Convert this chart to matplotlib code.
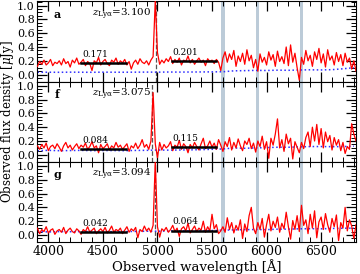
import numpy as np
import matplotlib
matplotlib.use("Agg")
import matplotlib.pyplot as plt
from matplotlib.ticker import MultipleLocator

plt.rcParams['font.family'] = ['DejaVu Serif']
plt.rcParams['mathtext.fontset'] = 'dejavuserif'

# spectra sampled every 20 A from 3900 to 6820 (rows of 10 points = 200 A)
wave = np.arange(3900, 6821, 20)

flux_a = [0.12, 0.19, 0.15, 0.21, 0.14, 0.17, 0.22, 0.13, 0.18, 0.16,
          0.20, 0.14, 0.23, 0.16, 0.19, 0.11, 0.21, 0.17, 0.24, 0.15,
          0.18, 0.22, 0.13, 0.19, 0.16, 0.06, 0.20, 0.17, 0.25, 0.14,
          0.19, 0.22, 0.16, 0.13, 0.21, 0.18, 0.24, 0.15, 0.20, 0.17,
          0.22, 0.14, 0.19, 0.08, 0.17, 0.21, 0.15, 0.23, 0.18, 0.16,
          0.20, 0.14, 0.21, 0.26, 1.08, 0.32, 0.15, 0.21, 0.17, 0.23,
          0.19, 0.26, 0.16, 0.22, 0.18, 0.24, 0.14, 0.21, 0.19, 0.27,
          0.17, 0.22, 0.15, 0.20, 0.24, 0.18, 0.21, 0.13, 0.23, 0.19,
          0.21, 0.16, 0.22, 0.18, 0.06, 0.24, 0.33, 0.18, 0.30, 0.22,
          0.35, 0.12, 0.27, 0.19, 0.31, 0.15, 0.36, 0.20, 0.28, 0.10,
          0.22, 0.05, 0.30, 0.18, 0.25, 0.14, 0.33, 0.21, 0.29, 0.12,
          0.34, 0.19, 0.26, 0.16, 0.40, 0.13, 0.43, 0.18, 0.31, 0.10,
          -0.08, 0.25, 0.15, 0.35, 0.20, 0.28, 0.12, 0.33, 0.22, 0.38,
          0.17, 0.30, 0.11, 0.36, 0.21, 0.27, 0.14, 0.32, 0.19, 0.29,
          0.13, 0.31, 0.18, 0.24, 0.08, 0.20, 0.05]

flux_f = [0.13, 0.08, 0.15, 0.10, 0.17, 0.06, 0.12, 0.14, 0.09, 0.16,
          0.11, 0.05, 0.13, 0.18, 0.10, 0.14, 0.07, 0.12, 0.16, 0.09,
          0.14, 0.11, 0.17, 0.08, 0.12, 0.19, 0.10, 0.13, 0.03, 0.15,
          0.09, 0.12, 0.16, 0.07, 0.13, 0.10, 0.18, 0.11, 0.14, 0.08,
          0.12, 0.16, 0.05, 0.13, 0.10, 0.17, 0.09, 0.14, 0.22, 0.11,
          0.15, 0.08, 0.20, 0.90, 0.16, -0.04, 0.18, 0.07, 0.15, 0.10,
          0.13, 0.19, 0.06, 0.14, 0.11, 0.21, 0.08, 0.16, 0.12, 0.03,
          0.15, 0.10, 0.18, 0.12, 0.07, 0.16, 0.24, 0.09, 0.13, 0.20,
          0.11, 0.17, 0.08, 0.22, 0.14, 0.05, 0.19, 0.12, 0.25, 0.07,
          0.18, 0.10, 0.23, 0.13, 0.06, 0.20, 0.15, 0.24, 0.09, 0.17,
          0.04, 0.20, 0.12, 0.27, 0.08, 0.19, -0.05, 0.24, 0.14, 0.30,
          0.52, 0.10, 0.22, 0.05, 0.30, 0.16, 0.24, -0.06, 0.19, 0.11,
          0.03, 0.18, 0.09, 0.25, 0.33, 0.12, 0.40, 0.20, 0.44, 0.15,
          0.38, 0.10, 0.33, 0.19, 0.28, 0.07, 0.25, 0.14, 0.22, 0.06,
          0.18, 0.02, 0.12, 0.08, 0.45, 0.30, 0.20]

flux_g = [0.10, 0.02, 0.08, 0.05, 0.12, 0.03, 0.07, 0.09, 0.01, 0.06,
          0.08, 0.04, 0.11, 0.02, 0.07, 0.10, 0.05, 0.03, 0.09, 0.06,
          0.01, 0.08, 0.05, 0.12, 0.04, 0.07, 0.10, 0.02, 0.06, 0.09,
          0.05, 0.11, 0.03, 0.07, 0.13, 0.04, 0.08, 0.06, 0.10, 0.02,
          0.07, 0.12, 0.04, 0.09, 0.06, 0.11, -0.04, 0.08, 0.05, 0.13,
          0.06, 0.10, 0.04, 0.14, 1.07, 0.12, -0.03, 0.09, 0.06, 0.11,
          0.04, 0.08, 0.14, 0.05, 0.10, -0.02, 0.09, 0.12, 0.06, 0.17,
          0.03, 0.08, 0.13, 0.05, 0.10, 0.07, 0.20, 0.04, 0.12, 0.06,
          0.30, 0.09, 0.15, 0.02, 0.06, 0.12, 0.04, 0.25, 0.08, 0.18,
          0.03, 0.14, 0.07, 0.22, -0.05, 0.16, 0.05, 0.28, 0.40, 0.10,
          0.02, 0.18, 0.08, 0.24, -0.03, 0.15, 0.30, 0.06, 0.20, 0.11,
          0.26, 0.04, 0.17, 0.09, 0.33, 0.12, -0.06, 0.21, 0.08, 0.28,
          0.05, 0.43, 0.14, 0.22, 0.02, 0.30, 0.10, 0.35, -0.04, 0.19,
          0.26, 0.08, 0.31, 0.15, 0.04, 0.24, 0.12, 0.29, -0.08, 0.18,
          0.10, 0.40, 0.06, 0.22, 0.13, -0.05, 0.15]

# noise spectra, every 100 A
err_wave = np.arange(3900, 6801, 100)
err_a = [0.035, 0.035, 0.034, 0.036, 0.035, 0.034, 0.036, 0.035, 0.035, 0.036,
         0.037, 0.036, 0.038, 0.037, 0.038, 0.039, 0.040, 0.042, 0.055, 0.058,
         0.062, 0.060, 0.065, 0.063, 0.067, 0.070, 0.068, 0.072, 0.085, 0.100]
err_f = [0.060, 0.065, 0.060, 0.062, 0.065, 0.060, 0.063, 0.062, 0.060, 0.064,
         0.065, 0.070, 0.068, 0.070, 0.072, 0.075, 0.080, 0.085, 0.100, 0.095,
         0.100, 0.105, 0.110, 0.110, 0.115, 0.120, 0.120, 0.118, 0.120, 0.125]
err_g = [0.050, 0.045, 0.050, 0.048, 0.050, 0.052, 0.050, 0.049, 0.050, 0.052,
         0.055, 0.055, 0.058, 0.060, 0.060, 0.062, 0.065, 0.070, 0.075, 0.078,
         0.080, 0.078, 0.085, 0.085, 0.090, 0.092, 0.090, 0.095, 0.098, 0.100]

labels = ['a', 'f', 'g']
redshifts = [3.100, 3.075, 3.094]
cont_blue = [0.171, 0.084, 0.042]
cont_red = [0.201, 0.115, 0.064]
blue_range = [4300, 4710]
red_range = [5130, 5540]
sky_lines = [5600, 5915, 6320]
lya_rest = 1215.67

fig, axes = plt.subplots(3, 1, figsize=(3.6, 2.74), dpi=100, sharex=True)
fig.subplots_adjust(left=0.104, right=0.989, top=0.995, bottom=0.117, hspace=0)

fluxes = [flux_a, flux_f, flux_g]
errs = [err_a, err_f, err_g]

for i, ax in enumerate(axes):
    for s in sky_lines:
        ax.axvspan(s - 15, s + 15, color='#bccbd8', lw=0, zorder=0)
    ax.axvline(lya_rest * (1 + redshifts[i]), color='#555555', ls='--', lw=0.9, zorder=1)
    ax.plot(err_wave, errs[i], color='#3030ff', ls=':', lw=1.1, zorder=2)
    ax.plot(wave, fluxes[i], color='red', lw=0.9, zorder=3)
    # continuum bars
    ax.plot(blue_range, [cont_blue[i]] * 2, color='black', lw=1.8, zorder=4)
    ax.plot(red_range, [cont_red[i]] * 2, color='black', lw=1.8, zorder=4)
    ax.text(blue_range[0] + 10, cont_blue[i] + 0.06, '%.3f' % cont_blue[i], fontsize=6.5, ha='left', va='bottom')
    ax.text(red_range[0] + 10, cont_red[i] + 0.06, '%.3f' % cont_red[i], fontsize=6.5, ha='left', va='bottom')
    ax.text(4080, 0.87, labels[i], fontsize=8, fontweight='bold', ha='center', va='center')
    ax.text(4670, 0.87, r'$z_{\rm Ly\alpha}$=%.3f' % redshifts[i], fontsize=7.5, ha='center', va='center')

    ax.set_xlim(3900, 6820)
    ax.set_ylim(-0.10, 1.06)
    ax.set_yticks([0.0, 0.2, 0.4, 0.6, 0.8, 1.0])
    ax.yaxis.set_minor_locator(MultipleLocator(0.05))
    ax.xaxis.set_major_locator(MultipleLocator(500))
    ax.xaxis.set_minor_locator(MultipleLocator(100))
    ax.tick_params(which='both', direction='in', top=True, right=True, pad=2)
    ax.tick_params(axis='y', labelsize=8)
    ax.tick_params(axis='x', labelsize=9)
    ax.tick_params(which='major', length=7, width=0.9)
    ax.tick_params(which='minor', length=3.5, width=0.7)

axes[2].set_xlabel('Observed wavelength [Å]', fontsize=9.5, labelpad=1)
fig.text(0.022, 0.556, r'Observed flux density [$\mu$Jy]', rotation=90, fontsize=8.5, ha='center', va='center')

plt.savefig('out.png', dpi=100)
